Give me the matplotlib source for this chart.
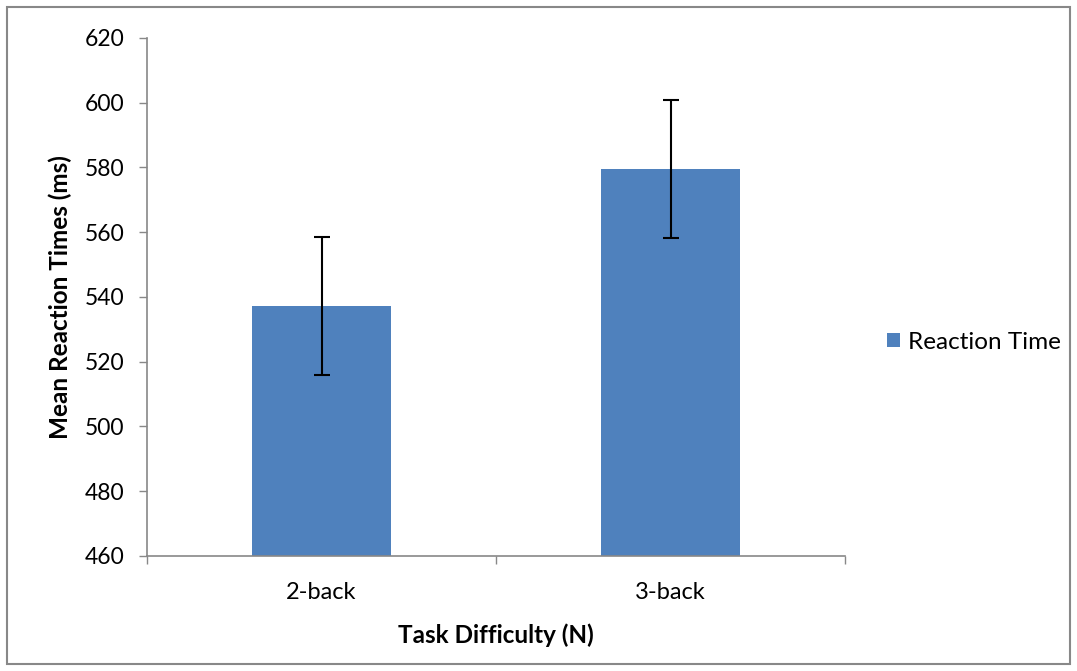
import matplotlib
matplotlib.use("Agg")
import matplotlib.pyplot as plt
from matplotlib.patches import Rectangle

categories = ["2-back", "3-back"]
mean_rt = [537.2, 579.6]
err_rt = [21.2, 21.3]
series_name = "Reaction Time"

plt.rcParams['font.family'] = ['Lato', 'DejaVu Sans']

fig = plt.figure(figsize=(10.77, 6.71), dpi=100)
ax = fig.add_axes([147/1077, 1-556/671, (845-147)/1077, (556-38)/671])

x = [0, 1]
ax.bar(x, mean_rt, width=0.4, bottom=0, color="#4F81BD", label=series_name, zorder=2)
ax.errorbar(x, mean_rt, yerr=err_rt, fmt="none", ecolor="black", elinewidth=1.5,
            capsize=6, capthick=1.5, zorder=3)

ax.set_xlim(-0.5, 1.5)
ax.set_ylim(460, 620)
ax.set_yticks(range(460, 621, 20))
ax.set_xticks(x)
ax.set_xticklabels(categories)
ax.set_xticks([-0.5, 0.5, 1.5], minor=True)
ax.tick_params(axis="x", which="major", length=0, pad=19, labelsize=17)
ax.tick_params(axis="x", which="minor", length=6, color="#888888", width=1)
ax.tick_params(axis="y", length=6, color="#888888", width=1, labelsize=16.5, pad=10)

for s in ["top", "right"]:
    ax.spines[s].set_visible(False)
for s in ["left", "bottom"]:
    ax.spines[s].set_color("#888888")
    ax.spines[s].set_linewidth(1.2)

ax.set_ylabel("Mean Reaction Times (ms)", fontsize=17.5, fontweight="bold", labelpad=9)
ax.set_xlabel("Task Difficulty (N)", fontsize=17.5, fontweight="bold", labelpad=14.5)

ax.legend(loc="center left", bbox_to_anchor=(1.06, 0.413), frameon=False, fontsize=17.5,
          handlelength=0.55, handleheight=0.55, handletextpad=0.3,
          borderpad=0, borderaxespad=0)

fig.patches.append(Rectangle((7/1077, 7/671), 1-14/1077, 1-14/671, transform=fig.transFigure,
                             fill=False, edgecolor="#888888", linewidth=1.5))

fig.savefig("out.png", dpi=100)
